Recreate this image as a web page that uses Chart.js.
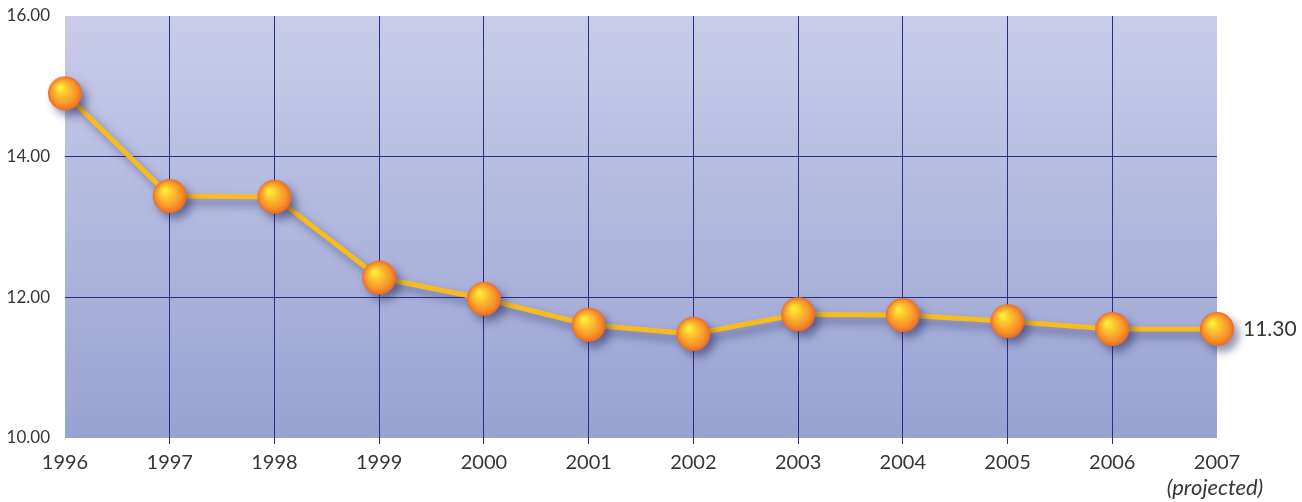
<!DOCTYPE html>
<html>
<head>
<meta charset="utf-8">
<script src="https://cdn.jsdelivr.net/npm/chart.js@4.4.1/dist/chart.umd.min.js"></script>
<style>
  body { margin: 0; background: #fff; }
  canvas { display: block; }
</style>
</head>
<body>
<canvas id="chart" width="1302" height="502"></canvas>
<script>
// data
const years = ['1996', '1997', '1998', '1999', '2000', '2001', '2002', '2003', '2004', '2005', '2006', '2007'];
const rates = [14.90, 13.44, 13.43, 12.28, 11.98, 11.61, 11.48, 11.76, 11.75, 11.66, 11.55, 11.55];
const yTicks = [10, 12, 14, 16];
const endLabel = '11.30';
const lastNote = '(projected)';

const gridNavy = '#2a2d88';
const textColor = '#363636';

// orange ball used as the point marker
function makeBall(r) {
    const c = document.createElement('canvas');
    c.width = c.height = r * 2 + 2;
    const g = c.getContext('2d');
    const cx = r + 1, cy = r + 1;
    const grad = g.createRadialGradient(cx - r * 0.3, cy - r * 0.35, 1, cx, cy, r);
    grad.addColorStop(0, '#fff03c');
    grad.addColorStop(0.35, '#fcc22e');
    grad.addColorStop(0.75, '#f7932a');
    grad.addColorStop(1, '#ec6a26');
    g.fillStyle = grad;
    g.beginPath();
    g.arc(cx, cy, r, 0, Math.PI * 2);
    g.fill();
    return c;
}
const ball = makeBall(17);

const plotBackground = {
    id: 'plotBackground',
    beforeDraw(chart) {
        const { ctx, chartArea: a } = chart;
        const grad = ctx.createLinearGradient(0, a.top, 0, a.bottom);
        grad.addColorStop(0, '#c9cde9');
        grad.addColorStop(1, '#98a2d2');
        ctx.save();
        ctx.fillStyle = grad;
        ctx.fillRect(a.left, a.top, a.right - a.left, a.bottom - a.top);
        ctx.restore();
    }
};

const dropShadow = {
    id: 'dropShadow',
    beforeDatasetDraw(chart) {
        const ctx = chart.ctx;
        ctx.save();
        ctx.shadowColor = 'rgba(35, 40, 95, 0.5)';
        ctx.shadowBlur = 9;
        ctx.shadowOffsetX = 5;
        ctx.shadowOffsetY = 6;
    },
    afterDatasetDraw(chart) {
        chart.ctx.restore();
    }
};

const extraText = {
    id: 'extraText',
    afterDraw(chart) {
        const ctx = chart.ctx;
        const x = chart.scales.x;
        const y = chart.scales.y;
        const last = years.length - 1;
        ctx.save();
        ctx.fillStyle = textColor;
        ctx.textBaseline = 'middle';
        ctx.font = '21px Lato';
        ctx.textAlign = 'left';
        ctx.fillText(endLabel, x.getPixelForValue(last) + 26, y.getPixelForValue(rates[last]));
        ctx.font = 'italic 22px Lato';
        ctx.textAlign = 'center';
        ctx.fillText(lastNote, x.getPixelForValue(last) - 2, 488);
        ctx.restore();
    }
};

new Chart(document.getElementById('chart'), {
    type: 'line',
    data: {
        labels: years,
        datasets: [{
            data: rates,
            borderColor: '#f8bb1f',
            borderWidth: 5,
            tension: 0,
            pointStyle: ball,
            pointRadius: 17,
            clip: false
        }]
    },
    options: {
        responsive: false,
        animation: false,
        layout: { autoPadding: false, padding: { top: 16, right: 85, left: 0, bottom: 0 } },
        plugins: { legend: { display: false }, tooltip: { enabled: false } },
        scales: {
            x: {
                offset: false,
                border: { display: false },
                grid: {
                    color: c => (c.index === 0 || c.index === years.length - 1) ? 'rgba(0,0,0,0)' : gridNavy,
                    tickLength: 6
                },
                ticks: {
                    color: textColor,
                    font: { family: 'Lato', size: 20 },
                    padding: 7,
                    maxRotation: 0,
                    autoSkip: false
                },
                afterFit(s) { s.height = 64; }
            },
            y: {
                min: 10,
                max: 16,
                border: { display: false },
                grid: {
                    color: c => (c.tick && (c.tick.value === 10 || c.tick.value === 16)) ? 'rgba(0,0,0,0)' : gridNavy,
                    drawTicks: false
                },
                afterBuildTicks(s) { s.ticks = yTicks.map(v => ({ value: v })); },
                ticks: {
                    color: textColor,
                    font: { family: 'Lato', size: 17 },
                    padding: 15,
                    callback: v => v.toFixed(2)
                },
                afterFit(s) { s.width = 65; s.paddingTop = 0; s.paddingBottom = 0; }
            }
        }
    },
    plugins: [plotBackground, dropShadow, extraText]
});
</script>
</body>
</html>
